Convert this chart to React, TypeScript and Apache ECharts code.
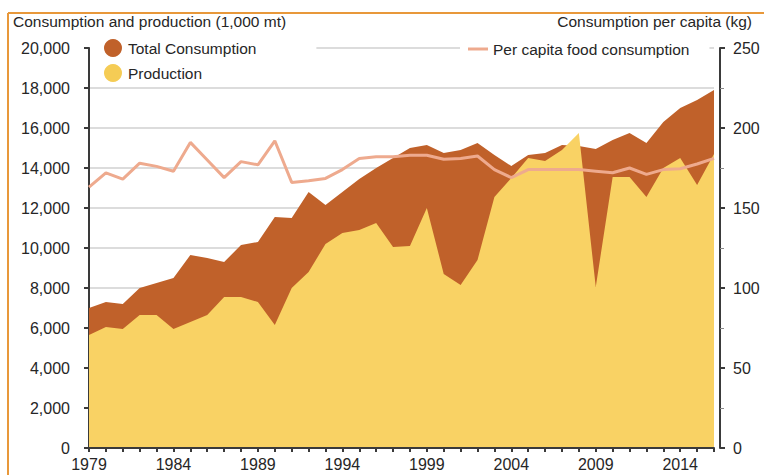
import React, { useEffect, useRef } from "react";
import * as echarts from "echarts";

const years: string[] = [];
for (let y = 1979; y <= 2016; y++) years.push(String(y));

const totalConsumption = [
  7000, 7300, 7200, 8000, 8250, 8500, 9650, 9500, 9300, 10150,
  10300, 11550, 11500, 12800, 12150, 12800, 13450, 14000, 14500, 15000,
  15150, 14750, 14900, 15250, 14650, 14100, 14650, 14750, 15150, 15100,
  14950, 15400, 15750, 15250, 16300, 17000, 17400, 17900,
];

const production = [
  5650, 6050, 5950, 6650, 6650, 5950, 6300, 6650, 7550, 7550,
  7300, 6150, 8000, 8800, 10200, 10750, 10900, 11250, 10050, 10100,
  12000, 8700, 8150, 9400, 12550, 13500, 14500, 14350, 14900, 15750,
  8050, 13550, 13550, 12550, 14000, 14500, 13150, 14700,
];

const perCapita = [
  163, 172, 168, 178, 176, 173, 191, 180, 169, 179,
  177, 192, 166, 167, 168.5, 174, 181, 182, 182, 183,
  183, 180.5, 181, 182.5, 174, 169, 174, 174, 174, 174,
  173, 172, 175, 171, 174, 174.5, 177.5, 181,
];

const FONT = "'Liberation Sans', Arial, Helvetica, sans-serif";
const TEXT = "#262626";
const AXIS = "#3a3a3a";
const BROWN = "#c0612a";
const YELLOW = "#f9d264";
const PINK = "#eeaa8e";
const FS = 15.5;
const AFS = 16;

export default function App() {
  const ref = useRef<HTMLDivElement>(null);
  useEffect(() => {
    if (!ref.current) return;
    const chart = echarts.init(ref.current, undefined, { renderer: "svg" });
    chart.setOption({
      animation: false,
      backgroundColor: "#ffffff",
      textStyle: { fontFamily: FONT },
      grid: { left: 89, right: 50, top: 48, bottom: 27, containLabel: false },
      graphic: [
        { type: "line", shape: { x1: 8, y1: 13, x2: 764, y2: 13 }, style: { stroke: "#e8983a", lineWidth: 2 }, z: 100 },
        { type: "line", shape: { x1: 8, y1: 13, x2: 8, y2: 475 }, style: { stroke: "#e8983a", lineWidth: 2 }, z: 100 },
        {
          type: "text", left: 13, top: 13, z: 100,
          style: { text: "Consumption and production (1,000 mt)", fill: TEXT, font: `${FS}px ${FONT}` },
        },
        {
          type: "text", right: 12, top: 13, z: 100,
          style: { text: "Consumption per capita (kg)", fill: TEXT, font: `${FS}px ${FONT}` },
        },
      ],
      legend: [
        {
          data: [
            { name: "Total Consumption", icon: "circle", itemStyle: { color: BROWN } },
            { name: "Production", icon: "circle", itemStyle: { color: "#f5cc55" } },
          ],
          orient: "vertical",
          left: 90,
          top: 36,
          itemWidth: 18,
          itemHeight: 18,
          itemGap: 7,
          padding: [3, 60, 3, 14],
          backgroundColor: "#ffffff",
          textStyle: { fontFamily: FONT, fontSize: FS, color: TEXT, padding: [0, 0, 0, 1] },
        },
        {
          data: [{ name: "Per capita food consumption", icon: "rect", itemStyle: { color: PINK } }],
          left: 460,
          top: 38,
          itemWidth: 20,
          itemHeight: 3,
          itemGap: 5,
          padding: [3, 20, 3, 8],
          backgroundColor: "#ffffff",
          textStyle: { fontFamily: FONT, fontSize: FS, color: TEXT },
        },
      ],
      xAxis: {
        type: "category",
        data: years,
        boundaryGap: false,
        axisLine: { lineStyle: { color: AXIS, width: 2 } },
        axisTick: { show: true, interval: 0, length: 4, lineStyle: { color: AXIS, width: 2 } },
        axisLabel: { interval: 4, margin: 8, fontSize: AFS, color: TEXT, fontFamily: FONT },
        splitLine: { show: false },
        z: 10,
      },
      yAxis: [
        {
          type: "value",
          min: 0,
          max: 20000,
          interval: 2000,
          position: "left",
          axisLine: { show: true, lineStyle: { color: AXIS, width: 2 } },
          axisTick: { show: true, length: 5, lineStyle: { color: AXIS, width: 2 } },
          axisLabel: {
            margin: 19,
            fontSize: AFS,
            color: TEXT,
            fontFamily: FONT,
            formatter: (v: number) => v.toLocaleString("en-US"),
          },
          splitLine: { show: true, lineStyle: { color: "#dcdcdc", width: 2 } },
        },
        {
          type: "value",
          min: 0,
          max: 250,
          interval: 50,
          position: "right",
          offset: 6,
          axisLine: { show: true, lineStyle: { color: AXIS, width: 2 } },
          axisTick: { show: true, length: 5, lineStyle: { color: AXIS, width: 2 } },
          minorTick: { show: true, splitNumber: 2, length: 4, lineStyle: { color: "#888", width: 1 } },
          axisLabel: { margin: 13, fontSize: AFS, color: TEXT, fontFamily: FONT },
          splitLine: { show: false },
        },
      ],
      series: [
        {
          name: "Total Consumption",
          type: "line",
          data: totalConsumption,
          yAxisIndex: 0,
          symbol: "none",
          lineStyle: { width: 0, color: BROWN },
          itemStyle: { color: BROWN },
          areaStyle: { color: BROWN, opacity: 1 },
          z: 2,
        },
        {
          name: "Production",
          type: "line",
          data: production,
          yAxisIndex: 0,
          symbol: "none",
          lineStyle: { width: 0, color: YELLOW },
          itemStyle: { color: YELLOW },
          areaStyle: { color: YELLOW, opacity: 1 },
          z: 3,
        },
        {
          name: "Per capita food consumption",
          type: "line",
          data: perCapita,
          yAxisIndex: 1,
          symbol: "none",
          lineStyle: { width: 3, color: PINK },
          itemStyle: { color: PINK },
          z: 4,
        },
      ],
    });
    return () => chart.dispose();
  }, []);
  return (
    <div
      ref={ref}
      style={{ position: "fixed", left: 0, top: 0, width: 764, height: 475, background: "#fff" }}
    />
  );
}
